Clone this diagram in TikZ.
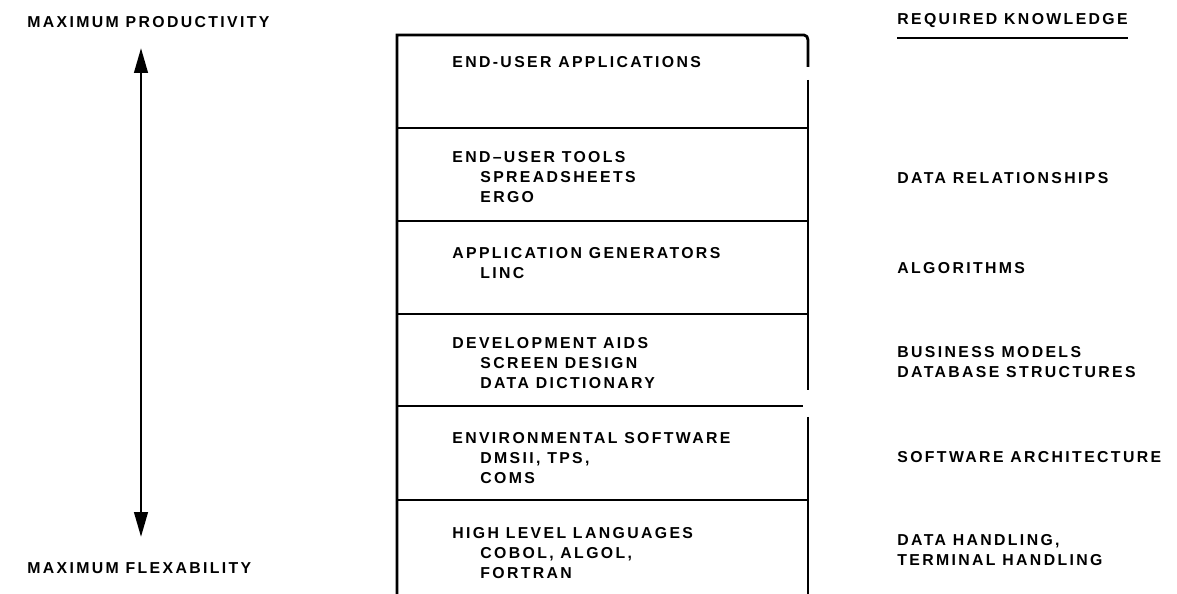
\documentclass[tikz,border=0pt]{standalone}
\usepackage{fontspec}
\setmainfont{Liberation Sans}[LetterSpace=15]
\usetikzlibrary{arrows.meta}
\begin{document}
\begin{tikzpicture}[x=0.02cm,y=-0.02cm,
    txt/.style={anchor=north west,inner sep=0pt,align=left,
      font=\fontsize{9}{11.4}\selectfont\bfseries},
    edge/.style={line width=1.6pt}]
  \useasboundingbox (0,0) rectangle (1177,594);
  % layer stack
  \draw[edge] (397,594) -- (397,35) -- (804,35) to[out=0,in=90] (808,40) -- (808,67);
  \draw[edge] (808,80) -- (808,390);
  \draw[edge] (808,417) -- (808,594);
  \foreach \y in {128,221,314,500}
    \draw[edge] (397,\y) -- (808,\y);
  \draw[edge] (397,406) -- (803,406);
  \node[txt] (apps) at (452,56) {END-USER APPLICATIONS};
  \node[txt] (tools) at (452,151) {END--USER TOOLS\\\hspace*{0.56cm}SPREADSHEETS\\\hspace*{0.56cm}ERGO};
  \node[txt] (gen) at (452,247) {APPLICATION GENERATORS\\\hspace*{0.56cm}LINC};
  \node[txt] (aids) at (452,337) {DEVELOPMENT AIDS\\\hspace*{0.56cm}SCREEN DESIGN\\\hspace*{0.56cm}DATA DICTIONARY};
  \node[txt] (env) at (452,432) {ENVIRONMENTAL SOFTWARE\\\hspace*{0.56cm}DMSII, TPS,\\\hspace*{0.56cm}COMS};
  \node[txt] (hll) at (452,527) {HIGH LEVEL LANGUAGES\\\hspace*{0.56cm}COBOL, ALGOL,\\\hspace*{0.56cm}FORTRAN};
  % left scale
  \node[txt] (prod) at (27,16) {MAXIMUM PRODUCTIVITY};
  \node[txt] (flex) at (27,562) {MAXIMUM FLEXABILITY};
  \coordinate (up) at (141,48);
  \coordinate (down) at (141,537);
  \draw[line width=1.6pt,{Triangle[length=0.5cm,width=0.27cm]}-{Triangle[length=0.5cm,width=0.27cm]}] (up) -- (down);
  % right column
  \node[txt] (req) at (897,13) {REQUIRED KNOWLEDGE};
  \draw[line width=1.2pt] ([yshift=-0.2cm]req.south west) -- ([yshift=-0.2cm]req.south east);
  \node[txt] (rel) at (897,172) {DATA RELATIONSHIPS};
  \node[txt] (alg) at (897,262) {ALGORITHMS};
  \node[txt] (bus) at (897,346) {BUSINESS MODELS\\DATABASE STRUCTURES};
  \node[txt] (arch) at (897,451) {SOFTWARE ARCHITECTURE};
  \node[txt] (hand) at (897,534) {DATA HANDLING,\\TERMINAL HANDLING};
\end{tikzpicture}
\end{document}
